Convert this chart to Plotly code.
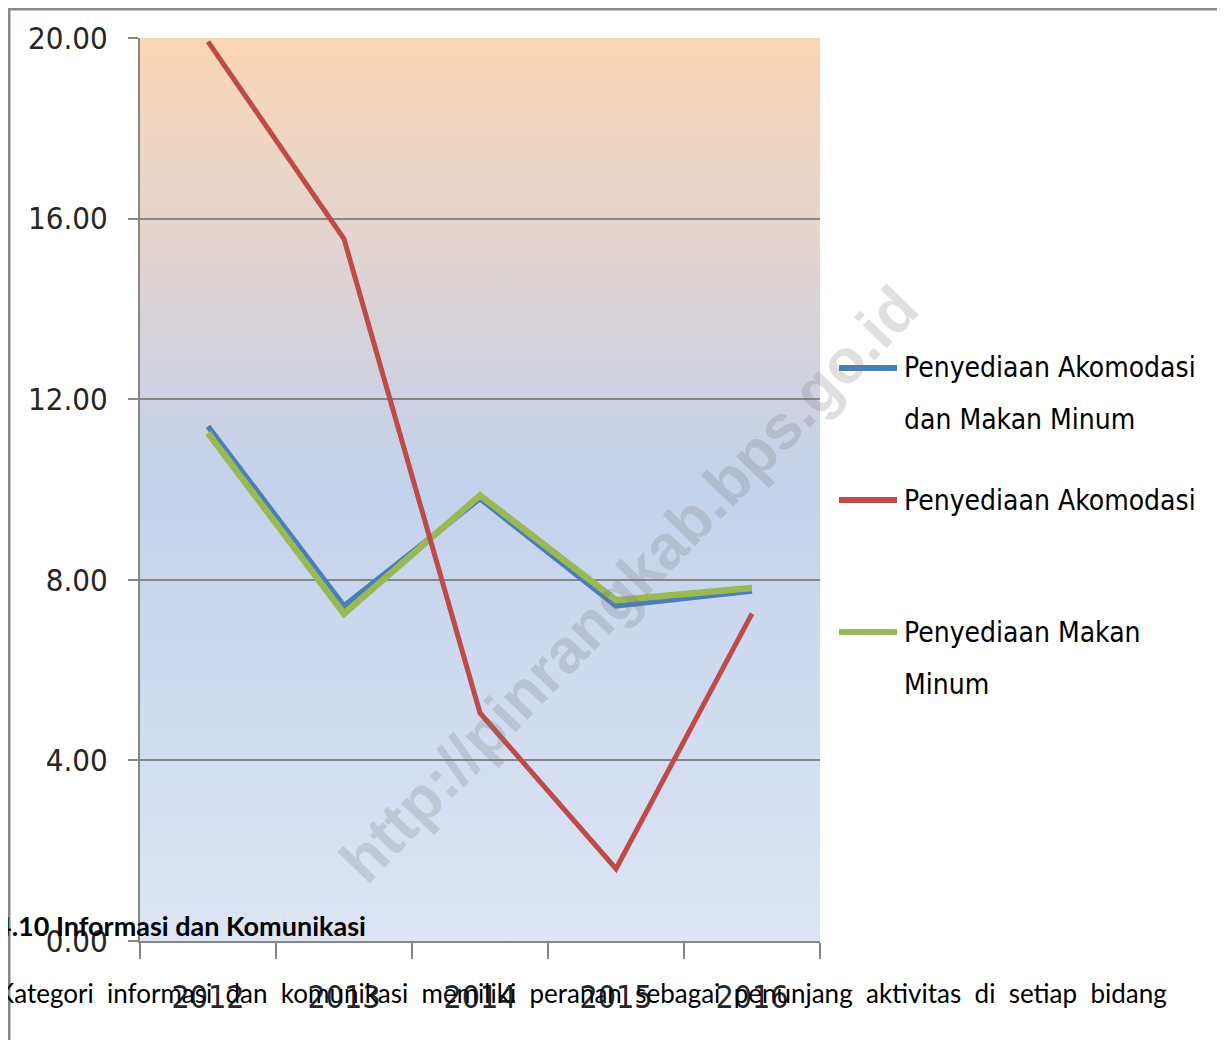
import base64
import plotly.graph_objects as go

# ---------------- data ----------------
years = ["2012", "2013", "2014", "2015", "2016"]
akomodasi_makan_minum = [11.40, 7.42, 9.80, 7.42, 7.75]
akomodasi = [19.92, 15.55, 5.05, 1.60, 7.25]
makan_minum = [11.25, 7.25, 9.87, 7.55, 7.82]

series_names = [
    "Penyediaan Akomodasi dan Makan Minum",
    "Penyediaan Akomodasi",
    "Penyediaan Makan Minum",
]
legend_lines = [
    ["Penyediaan Akomodasi", "dan Makan Minum"],
    ["Penyediaan Akomodasi"],
    ["Penyediaan Makan", "Minum"],
]
colors = ["#4A7EBB", "#BE4B48", "#98B954"]

y_ticks = [0, 4, 8, 12, 16, 20]

heading = "4.10 Informasi dan Komunikasi"
paragraph = ("Kategori  informasi  dan  komunikasi  memiliki  peranan  sebagai  "
             "penunjang  aktivitas  di  setiap  bidang")
watermark = "http://pinrangkab.bps.go.id"

# ---------------- layout geometry (page pixels) ----------------
OFF = 8                      # body margin of the html page
FIG_W, FIG_H = 1225 - OFF, 1040 - OFF
X0, X1 = 140, 820            # plot area in page px
Y0, Y1 = 38, 941

ML = X0 - OFF
MR = FIG_W - (X1 - OFF)
MT = Y0 - OFF
MB = FIG_H - (Y1 - OFF)


def px(x):
    return (x - X0) / (X1 - X0)


def py(y):
    return (Y1 - y) / (Y1 - Y0)


NARROW = "DejaVu Sans Condensed, Liberation Sans Narrow, sans-serif"

fig = go.Figure()

order = [0, 2, 1]
vals = [akomodasi_makan_minum, akomodasi, makan_minum]
widths = [5.5, 5, 6.5]
for i in order:
    fig.add_trace(go.Scatter(
        x=years, y=vals[i], name=series_names[i], mode="lines",
        line=dict(color=colors[i], width=widths[i]),
        showlegend=False,
    ))

# gradient background of the plot area
svg = ('<svg xmlns="http://www.w3.org/2000/svg" width="10" height="100" '
       'viewBox="0 0 10 100" preserveAspectRatio="none">'
       '<defs><linearGradient id="g" x1="0" y1="0" x2="0" y2="1">'
       '<stop offset="0" stop-color="#FCD5B5"/>'
       '<stop offset="0.2" stop-color="#E6D5CC"/>'
       '<stop offset="0.4" stop-color="#CDD1E2"/>'
       '<stop offset="0.5" stop-color="#C3D2EC"/>'
       '<stop offset="1" stop-color="#DDE5F4"/>'
       '</linearGradient></defs>'
       '<rect x="0" y="0" width="10" height="100" fill="url(#g)"/></svg>')
src = "data:image/svg+xml;base64," + base64.b64encode(svg.encode()).decode()

shapes = []
# outer chart border
shapes.append(dict(type="rect", xref="paper", yref="paper",
                   x0=px(9), x1=px(1240), y0=py(9), y1=py(1060),
                   line=dict(color="#878787", width=3), fillcolor="rgba(0,0,0,0)",
                   layer="below"))

annotations = []
# manual legend
leg_y = [368, 500, 632]
for k in range(3):
    shapes.append(dict(type="line", xref="paper", yref="paper",
                       x0=px(839), x1=px(897), y0=py(leg_y[k]), y1=py(leg_y[k]),
                       line=dict(color=colors[k], width=6)))
    for j, t in enumerate(legend_lines[k]):
        annotations.append(dict(
            text=t, xref="paper", yref="paper", x=px(902), y=py(leg_y[k] + 52 * j),
            xanchor="left", yanchor="middle", showarrow=False,
            font=dict(family=NARROW, size=28, color="#000000")))

# watermark
annotations.append(dict(
    text=watermark, xref="paper", yref="paper", x=px(628), y=py(584),
    xanchor="center", yanchor="middle", showarrow=False, textangle=-46,
    font=dict(family="Liberation Sans, Arial, sans-serif", size=62,
              color="rgba(120,120,120,0.24)", weight="bold")))

# overlapping document text
annotations.append(dict(
    text="<b>" + heading + "</b>", xref="paper", yref="paper", x=px(-6), y=py(925),
    xanchor="left", yanchor="middle", showarrow=False,
    font=dict(family="Lato, Open Sans, sans-serif", size=27, color="#000000")))
annotations.append(dict(
    text=paragraph, xref="paper", yref="paper", x=px(-5), y=py(993),
    xanchor="left", yanchor="middle", showarrow=False,
    font=dict(family="Lato, Open Sans, sans-serif", size=26, color="#000000")))

fig.update_layout(
    width=FIG_W, height=FIG_H,
    margin=dict(l=ML, r=MR, t=MT, b=MB, pad=0),
    paper_bgcolor="white", plot_bgcolor="rgba(0,0,0,0)",
    showlegend=False,
    images=[dict(source=src, xref="paper", yref="paper", x=0, y=1,
                 sizex=1, sizey=1, xanchor="left", yanchor="top",
                 sizing="stretch", layer="below")],
    shapes=shapes, annotations=annotations,
)

fig.update_xaxes(
    type="category", range=[-0.5, 4.5], tickson="boundaries",
    ticks="outside", ticklen=16, tickwidth=1.5, tickcolor="#868686",
    showgrid=False, showline=True, linecolor="#868686", linewidth=2,
    tickfont=dict(family=NARROW, size=32, color="#262626"),
    ticklabelstandoff=27, automargin=False,
)
fig.update_yaxes(
    range=[0, 20], tickvals=y_ticks, tickformat=".2f",
    ticks="outside", ticklen=10, tickwidth=1.5, tickcolor="#868686",
    showgrid=True, gridcolor="#868686", gridwidth=2,
    showline=True, linecolor="#868686", linewidth=2, zeroline=False,
    tickfont=dict(family=NARROW, size=31, color="#262626"),
    ticklabelstandoff=14, automargin=False,
)

fig.write_html("out.html")
